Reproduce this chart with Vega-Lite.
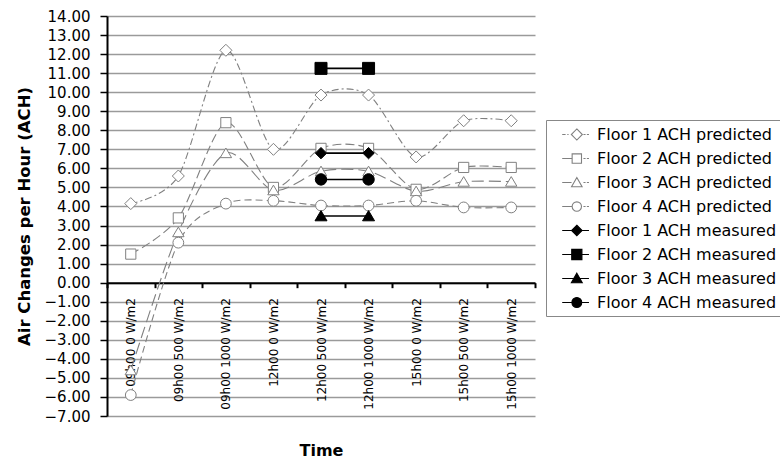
{
  "$schema": "https://vega.github.io/schema/vega-lite/v6.json",
  "width": 428,
  "height": 400,
  "autosize": {"type": "none"},
  "padding": {"left": 107, "top": 16, "right": 245, "bottom": 43},
  "background": "white",
  "config": {"font": "DejaVu Sans", "view": {"stroke": null}},
  "data": {
    "values": [
      {"series": "Floor 1 ACH predicted", "kind": "predicted", "time": "09h00 0 W/m2", "ach": 4.15},
      {"series": "Floor 1 ACH predicted", "kind": "predicted", "time": "09h00 500 W/m2", "ach": 5.6},
      {"series": "Floor 1 ACH predicted", "kind": "predicted", "time": "09h00 1000 W/m2", "ach": 12.2},
      {"series": "Floor 1 ACH predicted", "kind": "predicted", "time": "12h00 0 W/m2", "ach": 7.0},
      {"series": "Floor 1 ACH predicted", "kind": "predicted", "time": "12h00 500 W/m2", "ach": 9.85},
      {"series": "Floor 1 ACH predicted", "kind": "predicted", "time": "12h00 1000 W/m2", "ach": 9.85},
      {"series": "Floor 1 ACH predicted", "kind": "predicted", "time": "15h00 0 W/m2", "ach": 6.6},
      {"series": "Floor 1 ACH predicted", "kind": "predicted", "time": "15h00 500 W/m2", "ach": 8.5},
      {"series": "Floor 1 ACH predicted", "kind": "predicted", "time": "15h00 1000 W/m2", "ach": 8.5},
      {"series": "Floor 2 ACH predicted", "kind": "predicted", "time": "09h00 0 W/m2", "ach": 1.5},
      {"series": "Floor 2 ACH predicted", "kind": "predicted", "time": "09h00 500 W/m2", "ach": 3.4},
      {"series": "Floor 2 ACH predicted", "kind": "predicted", "time": "09h00 1000 W/m2", "ach": 8.4},
      {"series": "Floor 2 ACH predicted", "kind": "predicted", "time": "12h00 0 W/m2", "ach": 5.0},
      {"series": "Floor 2 ACH predicted", "kind": "predicted", "time": "12h00 500 W/m2", "ach": 7.05},
      {"series": "Floor 2 ACH predicted", "kind": "predicted", "time": "12h00 1000 W/m2", "ach": 7.05},
      {"series": "Floor 2 ACH predicted", "kind": "predicted", "time": "15h00 0 W/m2", "ach": 4.9},
      {"series": "Floor 2 ACH predicted", "kind": "predicted", "time": "15h00 500 W/m2", "ach": 6.05},
      {"series": "Floor 2 ACH predicted", "kind": "predicted", "time": "15h00 1000 W/m2", "ach": 6.05},
      {"series": "Floor 3 ACH predicted", "kind": "predicted", "time": "09h00 0 W/m2", "ach": -4.6},
      {"series": "Floor 3 ACH predicted", "kind": "predicted", "time": "09h00 500 W/m2", "ach": 2.65},
      {"series": "Floor 3 ACH predicted", "kind": "predicted", "time": "09h00 1000 W/m2", "ach": 6.8},
      {"series": "Floor 3 ACH predicted", "kind": "predicted", "time": "12h00 0 W/m2", "ach": 4.85},
      {"series": "Floor 3 ACH predicted", "kind": "predicted", "time": "12h00 500 W/m2", "ach": 5.85},
      {"series": "Floor 3 ACH predicted", "kind": "predicted", "time": "12h00 1000 W/m2", "ach": 5.85},
      {"series": "Floor 3 ACH predicted", "kind": "predicted", "time": "15h00 0 W/m2", "ach": 4.8},
      {"series": "Floor 3 ACH predicted", "kind": "predicted", "time": "15h00 500 W/m2", "ach": 5.3},
      {"series": "Floor 3 ACH predicted", "kind": "predicted", "time": "15h00 1000 W/m2", "ach": 5.3},
      {"series": "Floor 4 ACH predicted", "kind": "predicted", "time": "09h00 0 W/m2", "ach": -5.9},
      {"series": "Floor 4 ACH predicted", "kind": "predicted", "time": "09h00 500 W/m2", "ach": 2.1},
      {"series": "Floor 4 ACH predicted", "kind": "predicted", "time": "09h00 1000 W/m2", "ach": 4.15},
      {"series": "Floor 4 ACH predicted", "kind": "predicted", "time": "12h00 0 W/m2", "ach": 4.3},
      {"series": "Floor 4 ACH predicted", "kind": "predicted", "time": "12h00 500 W/m2", "ach": 4.05},
      {"series": "Floor 4 ACH predicted", "kind": "predicted", "time": "12h00 1000 W/m2", "ach": 4.05},
      {"series": "Floor 4 ACH predicted", "kind": "predicted", "time": "15h00 0 W/m2", "ach": 4.3},
      {"series": "Floor 4 ACH predicted", "kind": "predicted", "time": "15h00 500 W/m2", "ach": 3.95},
      {"series": "Floor 4 ACH predicted", "kind": "predicted", "time": "15h00 1000 W/m2", "ach": 3.95},
      {"series": "Floor 1 ACH measured", "kind": "measured", "time": "12h00 500 W/m2", "ach": 6.8},
      {"series": "Floor 1 ACH measured", "kind": "measured", "time": "12h00 1000 W/m2", "ach": 6.8},
      {"series": "Floor 2 ACH measured", "kind": "measured", "time": "12h00 500 W/m2", "ach": 11.25},
      {"series": "Floor 2 ACH measured", "kind": "measured", "time": "12h00 1000 W/m2", "ach": 11.25},
      {"series": "Floor 3 ACH measured", "kind": "measured", "time": "12h00 500 W/m2", "ach": 3.5},
      {"series": "Floor 3 ACH measured", "kind": "measured", "time": "12h00 1000 W/m2", "ach": 3.5},
      {"series": "Floor 4 ACH measured", "kind": "measured", "time": "12h00 500 W/m2", "ach": 5.42},
      {"series": "Floor 4 ACH measured", "kind": "measured", "time": "12h00 1000 W/m2", "ach": 5.42}
    ]
  },
  "encoding": {
    "x": {
      "field": "time",
      "type": "ordinal",
      "sort": ["09h00 0 W/m2", "09h00 500 W/m2", "09h00 1000 W/m2", "12h00 0 W/m2", "12h00 500 W/m2", "12h00 1000 W/m2", "15h00 0 W/m2", "15h00 500 W/m2", "15h00 1000 W/m2"],
      "scale": {"type": "band", "paddingInner": 0, "paddingOuter": 0},
      "axis": {
        "title": "Time",
        "orient": "bottom",
        "offset": -133.33,
        "labelAngle": -90,
        "labelFontSize": 12,
        "labelColor": "black",
        "labelPadding": 10,
        "labelLimit": 0,
        "tickBand": "extent",
        "ticks": true,
        "tickSize": 5,
        "tickColor": "black",
        "tickWidth": 2,
        "domainColor": "black",
        "domainWidth": 2,
        "grid": false,
        "titleFontSize": 16,
        "titleFontWeight": "bold",
        "titleColor": "black",
        "titleX": 214,
        "titleY": 168,
        "titleAlign": "center",
        "titleBaseline": "middle"
      }
    },
    "y": {
      "field": "ach",
      "type": "quantitative",
      "scale": {"domain": [-7, 14], "nice": false, "zero": false},
      "axis": {
        "title": "Air Changes per Hour (ACH)",
        "values": [-7, -6, -5, -4, -3, -2, -1, 0, 1, 2, 3, 4, 5, 6, 7, 8, 9, 10, 11, 12, 13, 14],
        "format": ".2f",
        "labelFontSize": 15,
        "labelColor": "black",
        "labelPadding": 10,
        "labelOverlap": false,
        "labelFlush": false,
        "tickSize": 7,
        "tickColor": "black",
        "tickWidth": 1.5,
        "domainColor": "black",
        "domainWidth": 2,
        "grid": true,
        "gridColor": "#9a9a9a",
        "gridWidth": 1.3,
        "titleFontSize": 16.5,
        "titleFontWeight": "bold",
        "titleColor": "black",
        "titleX": -75,
        "titleY": 200,
        "titleAngle": -90,
        "titleAlign": "center",
        "titleBaseline": "bottom"
      }
    }
  },
  "layer": [
    {
      "transform": [{"filter": "datum.kind === 'predicted'"}],
      "mark": {"type": "line", "interpolate": "cardinal", "tension": 0.15, "color": "#808080", "strokeWidth": 1.1},
      "encoding": {
        "strokeDash": {
          "field": "series",
          "type": "nominal",
          "scale": {
            "domain": ["Floor 1 ACH predicted", "Floor 2 ACH predicted", "Floor 3 ACH predicted", "Floor 4 ACH predicted"],
            "range": [[7, 3, 2, 3], [9, 4], [12, 5], [7, 4]]
          },
          "legend": null
        }
      }
    },
    {
      "transform": [{"filter": "datum.kind === 'measured'"}],
      "mark": {"type": "line", "color": "black", "strokeWidth": 1.6},
      "encoding": {"detail": {"field": "series", "type": "nominal"}}
    },
    {
      "mark": {"type": "point", "filled": true, "size": 144, "strokeWidth": 1, "opacity": 1},
      "encoding": {
        "shape": {
          "field": "series",
          "type": "nominal",
          "scale": {
            "domain": ["Floor 1 ACH predicted", "Floor 2 ACH predicted", "Floor 3 ACH predicted", "Floor 4 ACH predicted", "Floor 1 ACH measured", "Floor 2 ACH measured", "Floor 3 ACH measured", "Floor 4 ACH measured"],
            "range": [
              "M0,-1L1,0L0,1L-1,0Z",
              "M-0.85,-0.85H0.85V0.85H-0.85Z",
              "M0,-0.85L0.95,0.75H-0.95Z",
              "M0.9,0A0.9,0.9 0 1,1 -0.9,0A0.9,0.9 0 1,1 0.9,0Z",
              "M0,-0.95L0.95,0L0,0.95L-0.95,0Z",
              "M-1,-1H1V1H-1Z",
              "M0,-0.9L1,0.8H-1Z",
              "M0.95,0A0.95,0.95 0 1,1 -0.95,0A0.95,0.95 0 1,1 0.95,0Z"
            ]
          },
          "legend": null
        },
        "fill": {"condition": {"test": "datum.kind === 'measured'", "value": "black"}, "value": "white"},
        "stroke": {"condition": {"test": "datum.kind === 'measured'", "value": "black"}, "value": "#808080"}
      }
    },
    {
      "transform": [{"filter": "datum.ach > 100"}],
      "mark": {"type": "point", "filled": true, "size": 289, "strokeWidth": 1.1, "opacity": 1},
      "encoding": {
        "shape": {
          "field": "series",
          "type": "nominal",
          "scale": {
            "domain": ["Floor 1 ACH predicted", "Floor 2 ACH predicted", "Floor 3 ACH predicted", "Floor 4 ACH predicted", "Floor 1 ACH measured", "Floor 2 ACH measured", "Floor 3 ACH measured", "Floor 4 ACH measured"],
            "range": [
              "M0.2,0H0.6M0.8,0H0.95M1.92,-0.65L2.57,0L1.92,0.65L1.27,0ZM2.7,0H2.95M3.1,0H3.35",
              "M0.2,0H1.37M1.37,-0.55H2.47V0.55H1.37ZM2.7,0H2.95M3.1,0H3.35",
              "M0.2,0H1.3M1.92,-0.58L2.54,0.5H1.3ZM2.7,0H2.95M3.1,0H3.35",
              "M0.2,0H1.37M2.47,0A0.55,0.55 0 1,1 1.37,0A0.55,0.55 0 1,1 2.47,0ZM2.7,0H2.95M3.1,0H3.35",
              "M0.2,0H3.35M1.92,-0.62L2.54,0L1.92,0.62L1.3,0Z",
              "M0.2,0H3.35M1.32,-0.6H2.52V0.6H1.32Z",
              "M0.2,0H3.35M1.92,-0.62L2.56,0.5H1.28Z",
              "M0.2,0H3.35M2.5,0A0.58,0.58 0 1,1 1.34,0A0.58,0.58 0 1,1 2.5,0Z"
            ]
          },
          "legend": {
            "title": null,
            "orient": "none",
            "legendX": 439,
            "legendY": 104,
            "strokeColor": "#888888",
            "fillColor": "white",
            "padding": 5,
            "symbolSize": 289,
            "symbolStrokeWidth": 1.1,
            "labelFontSize": 16,
            "labelColor": "black",
            "labelOffset": 27,
            "labelLimit": 400,
            "rowPadding": 6
          }
        },
        "fill": {
          "field": "series",
          "type": "nominal",
          "scale": {
            "domain": ["Floor 1 ACH predicted", "Floor 2 ACH predicted", "Floor 3 ACH predicted", "Floor 4 ACH predicted", "Floor 1 ACH measured", "Floor 2 ACH measured", "Floor 3 ACH measured", "Floor 4 ACH measured"],
            "range": ["white", "white", "white", "white", "black", "black", "black", "black"]
          }
        },
        "stroke": {
          "field": "series",
          "type": "nominal",
          "scale": {
            "domain": ["Floor 1 ACH predicted", "Floor 2 ACH predicted", "Floor 3 ACH predicted", "Floor 4 ACH predicted", "Floor 1 ACH measured", "Floor 2 ACH measured", "Floor 3 ACH measured", "Floor 4 ACH measured"],
            "range": ["#808080", "#808080", "#808080", "#808080", "black", "black", "black", "black"]
          }
        }
      }
    }
  ],
  "resolve": {
    "scale": {"shape": "independent", "fill": "independent", "stroke": "independent"},
    "legend": {"shape": "independent", "fill": "independent", "stroke": "independent"}
  }
}
